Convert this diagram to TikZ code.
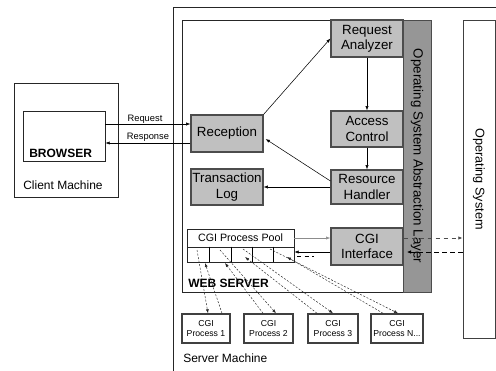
\documentclass[tikz,border=0pt]{standalone}
\usepackage{fontspec}
\setmainfont{Liberation Sans}
\usetikzlibrary{arrows.meta,calc}
\definecolor{boxgray}{RGB}{192,192,192}
\definecolor{layergray}{RGB}{150,150,150}
\begin{document}
\begin{tikzpicture}[x=0.75pt,y=-0.75pt,
  container/.style={draw=black!85,line width=0.7pt,fill=white,inner sep=0pt},
  comp/.style={draw=black!70,fill=boxgray,line width=0.9pt,align=center,inner sep=0pt,
    font=\fontsize{10}{11.5}\selectfont,minimum width=54pt},
  proc/.style={draw=black!75,fill=white,line width=1.1pt,align=center,inner sep=0pt,
    font=\fontsize{6.5}{8}\selectfont,minimum height=21.75pt},
  plain/.style={draw=black!85,fill=white,line width=0.6pt,inner sep=0pt},
  lbl/.style={inner sep=0pt,font=\fontsize{9}{10}\selectfont},
  arr/.style={-{Latex[length=3.2pt,width=2.4pt]},line width=0.4pt},
  darr/.style={-{Latex[length=3.2pt,width=2.6pt]},line width=0.6pt,dash pattern=on 3.5pt off 2.5pt},
  ddarr/.style={-{Latex[length=3pt,width=2.2pt]},line width=0.35pt,dash pattern=on 1.5pt off 1.2pt,black!85}
]
\path[use as bounding box,fill=white] (0,0) rectangle (496,371);

% client side
\node[container,minimum width=78pt,minimum height=85.5pt] (client) at (66,140) {};
\node[container,minimum width=61.5pt,minimum height=37.5pt] (browser) at (64,136) {};
\node[lbl,anchor=west,font=\fontsize{9}{10}\selectfont\bfseries] (browserlbl) at (29,153) {BROWSER};
\node[lbl] (clientlbl) at (63,185) {Client Machine};

% server machine
\node[container,minimum width=245.25pt,minimum height=276.75pt] (server) at (336.5,191.5) {};
\node[lbl,anchor=west] (serverlbl) at (183,358) {Server Machine};
\node[container,minimum width=186.75pt,minimum height=204pt] (web) at (306.5,156) {};
\node[lbl,anchor=west,font=\fontsize{9}{10}\selectfont\bfseries] (weblbl) at (188,283) {WEB SERVER};

% abstraction layer
\node[draw=black!70,fill=layergray,line width=0.7pt,minimum width=21pt,minimum height=204pt,inner sep=0pt] (osal) at (417,156) {};
\node[rotate=-90,inner sep=0pt,font=\fontsize{10}{12}\selectfont] (osallbl) at (osal.center) {Operating System Abstraction Layer};

% operating system
\node[draw=black!75,fill=white,line width=0.7pt,minimum width=24pt,minimum height=238.5pt,inner sep=0pt] (os) at (479,179) {};
\node[rotate=-90,inner sep=0pt,font=\fontsize{9.5}{12}\selectfont] (oslbl) at (os.center) {Operating System};

% components
\node[comp,minimum height=27.75pt] (ra) at (367,38.5) {Request\\Analyzer};
\node[comp,minimum height=27pt] (ac) at (367,129) {Access\\Control};
\node[comp,minimum height=25.5pt] (rh) at (367,187) {Resource\\Handler};
\node[comp,minimum height=27.75pt] (rec) at (227,133.5) {Reception};
\node[comp,minimum height=27pt] (tl) at (227,187) {Transaction\\Log};
\node[comp,minimum height=27.75pt,line width=1.1pt] (cgi) at (367,246.5) {CGI\\Interface};

% process pool
\node[plain,minimum width=80.25pt,minimum height=13.5pt,font=\fontsize{8}{9}\selectfont] (pool) at (240.5,238) {CGI Process Pool};
\node[plain,minimum width=80.25pt,minimum height=11.25pt] (cells) at (240.5,254.5) {};
\foreach \x in {209,231,252,273} \draw[line width=0.6pt] (\x,0 |- cells.north) -- (\x,0 |- cells.south);

% CGI processes
\node[proc,minimum width=36pt] (p1) at (206,328.5) {CGI\\Process 1};
\node[proc,minimum width=36.75pt] (p2) at (268.5,328.5) {CGI\\Process 2};
\node[proc,minimum width=37.5pt] (p3) at (333,328.5) {CGI\\Process 3};
\node[proc,minimum width=39pt] (pn) at (397,328.5) {CGI\\Process N...};

% request / response
\coordinate (reqy) at (0,124);
\coordinate (resy) at (0,143);
\draw[arr] (browser.east |- reqy) -- (rec.west |- reqy);
\draw[arr] (rec.west |- resy) -- (browser.east |- resy);
\node[inner sep=0pt,font=\fontsize{7}{8}\selectfont] (reqlbl) at (145,119) {Request};
\node[inner sep=0pt,font=\fontsize{7}{8}\selectfont] (reslbl) at (148,137.5) {Response};

% internal flow
\draw[arr] (rec.north east) -- (ra.west);
\draw[arr] (ra.south) -- (ac.north);
\draw[arr] (ac.south) -- (rh.north);
\draw[arr] ($(rh.west)+(0,-6)$) -- ($(rec.east)+(2,5.5)$);
\draw[arr] (rh.west) -- (tl.east);
\draw[arr,draw=black!45] (pool.east) -- (cgi.west |- pool.east);
\draw[arr] ($(cgi.west)+(0,5.5)$) -- ($(cells.east)+(0,-2.5)$);
\draw[line width=0.6pt,dash pattern=on 3pt off 2.5pt] ($(cells.east)+(3,1.5)$) -- ($(cells.east)+(20,1.5)$);

% OS communication
\draw[darr,draw=black!70] (cgi.east |- pool.east) -- (os.west |- pool.east);
\draw[darr] ($(os.west)+(0,73)$) -- ($(cgi.east)+(3,5.5)$);

% process connections
\coordinate (f1) at (197,250);
\coordinate (f2) at (220,250);
\coordinate (f3) at (243,249);
\coordinate (f4) at (270,249);
\coordinate (r1) at (205,263);
\coordinate (r2) at (225,263);
\coordinate (r3) at (245,257);
\coordinate (r4) at (287,257);
\draw[ddarr] (f1) -- ($(p1.north)+(2,0)$);
\draw[ddarr] (f2) -- ($(p2.north)+(7.5,0)$);
\draw[ddarr] (f3) -- (p3.north);
\draw[ddarr] (f4) -- ($(pn.north)+(1,0)$);
\draw[ddarr] ($(p1.north)+(16,0)$) -- (r1);
\draw[ddarr] ($(p2.north)+(-5.5,0)$) -- (r2);
\draw[ddarr] ($(p3.north)+(-16,0)$) -- (r3);
\draw[ddarr] ($(pn.north)+(-14,0)$) -- (r4);
\end{tikzpicture}
\end{document}
